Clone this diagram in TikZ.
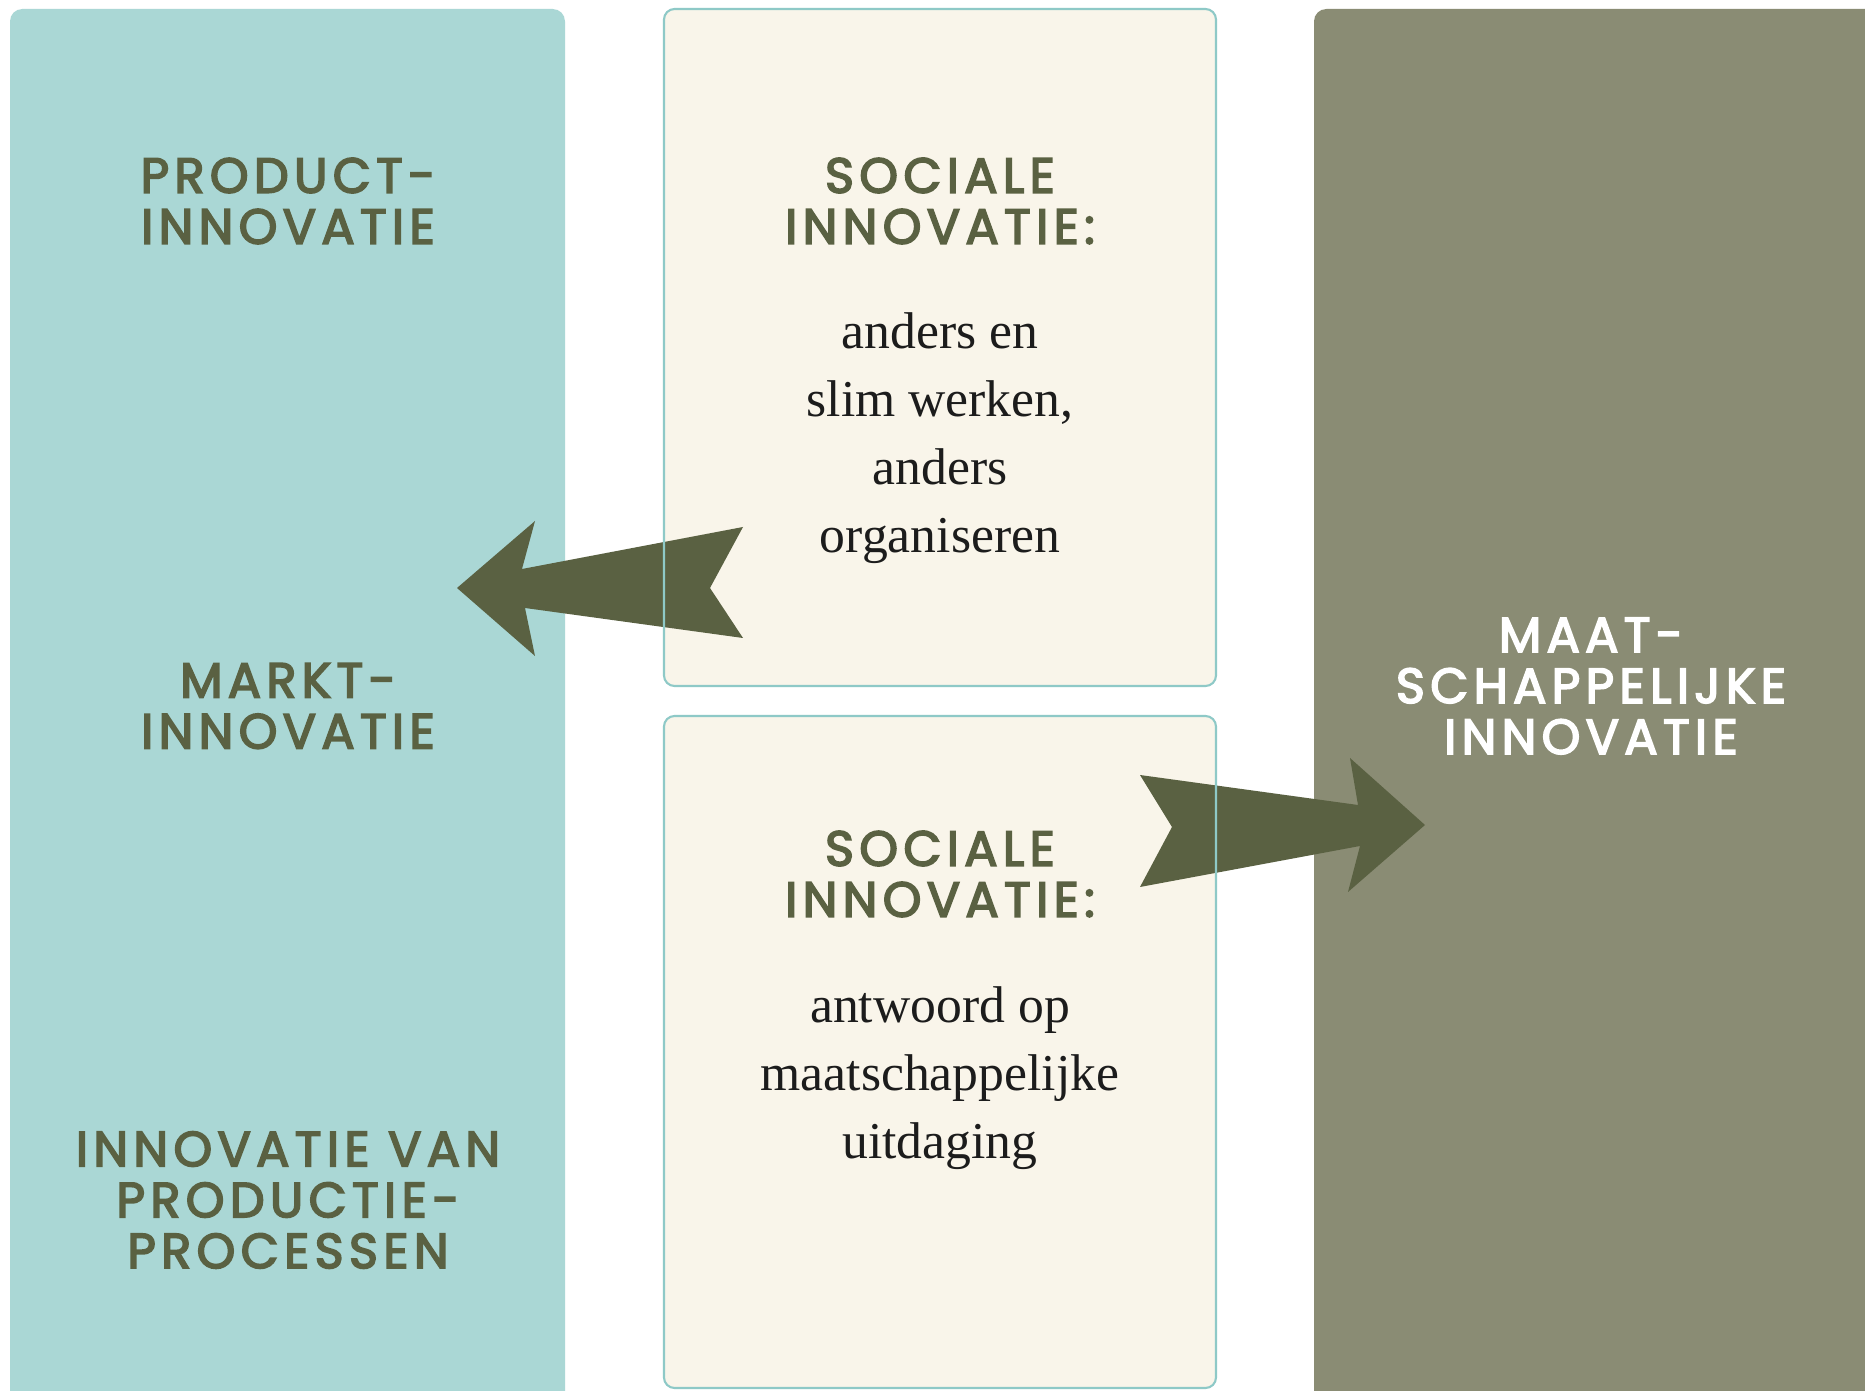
\documentclass[tikz,border=0pt]{standalone}
\usepackage{fontspec}
\setmainfont{Liberation Serif}
\newfontfamily\headfont[LetterSpace=11, FakeBold=3.5]{Poppins}
\definecolor{boxteal}{HTML}{AAD7D5}
\definecolor{boxcream}{HTML}{F9F5EA}
\definecolor{boxline}{HTML}{8EC9C7}
\definecolor{boxolive}{HTML}{8A8C74}
\definecolor{arrowolive}{HTML}{5A6142}
\definecolor{bodyblack}{HTML}{1C1C1C}
\tikzset{
  headtext/.style={font=\headfont\fontsize{14}{14.5}\selectfont, text=arrowolive, align=center},
  bodytext/.style={font=\fontsize{14.7}{19.4}\selectfont, text=bodyblack, align=center},
  fatarrow/.style={fill=arrowolive},
}
\begin{document}
\begin{tikzpicture}[x=0.1mm,y=-0.1mm]
  \clip (0,0) rectangle (1865,1391);
  \fill[white] (0,0) rectangle (1865,1391);
  % blokken
  \fill[boxteal, rounded corners=3.5pt] (10,9) rectangle (565,1420);
  \fill[boxcream, rounded corners=3pt] (664,9) rectangle (1216,686);
  \fill[boxcream, rounded corners=3pt] (664,716) rectangle (1216,1388);
  \fill[boxolive, rounded corners=3.5pt] (1314,9) rectangle (1880,1420);
  % pijlen
  \fill[fatarrow] (457,588) -- (535,521) -- (522,569) -- (743,527) -- (710,588)
    -- (743,638) -- (525,608) -- (535,656) -- cycle;
  \fill[fatarrow] (1425,825) -- (1350,758) -- (1358,805) -- (1140,775) -- (1172,827)
    -- (1140,887) -- (1360,846) -- (1348,892) -- cycle;
  \draw[boxline, line width=0.6pt, rounded corners=3pt] (664,9) rectangle (1216,686);
  \draw[boxline, line width=0.6pt, rounded corners=3pt] (664,716) rectangle (1216,1388);
  % teksten
  \node[headtext] (prod) at (288,201) {PRODUCT-\\INNOVATIE};
  \node[headtext] (markt) at (288,706) {MARKT-\\INNOVATIE};
  \node[headtext] (proces) at (288,1200) {INNOVATIE VAN\\PRODUCTIE-\\PROCESSEN};
  \node[headtext] (soctop) at (940,201) {SOCIALE\\INNOVATIE:};
  \node[bodytext] (anders) at (940,438) {anders en\\slim werken,\\anders\\organiseren};
  \node[headtext] (socbot) at (940,874) {SOCIALE\\INNOVATIE:};
  \node[bodytext] (antwoord) at (940,1078) {antwoord op\\maatschappelijke\\uitdaging};
  \node[headtext, text=white] (maat) at (1591,686) {MAAT-\\SCHAPPELIJKE\\INNOVATIE};
\end{tikzpicture}
\end{document}
